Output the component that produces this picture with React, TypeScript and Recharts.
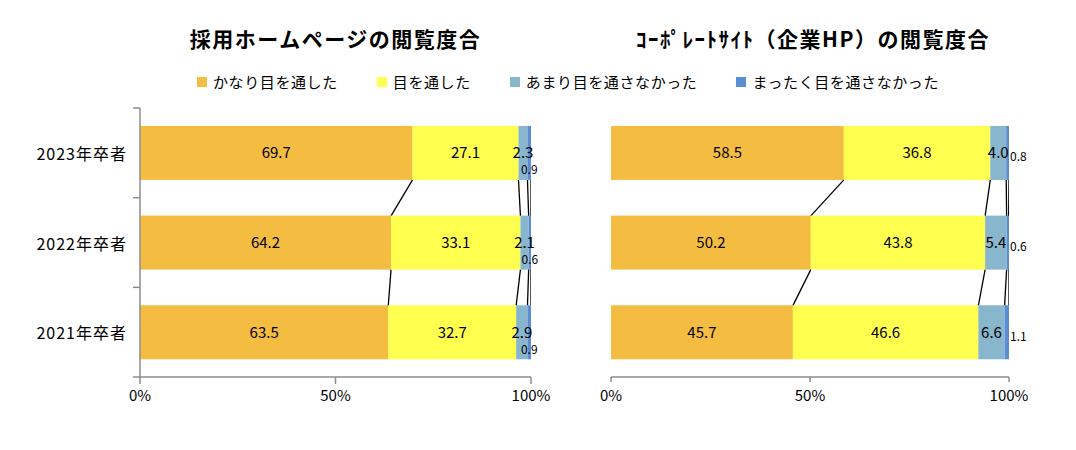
import React from 'react';
import { BarChart, Bar, XAxis, YAxis, LabelList } from 'recharts';

// ---- data ----
const years = ['2023年卒者', '2022年卒者', '2021年卒者'];
const seriesNames = ['かなり目を通した', '目を通した', 'あまり目を通さなかった', 'まったく目を通さなかった'];
const seriesColors = ['#F4BD41', '#FFFF4F', '#88B6CC', '#5B8DD3'];
const xTicks = [0, 50, 100];

const hpKanari = [69.7, 64.2, 63.5];
const hpTooshita = [27.1, 33.1, 32.7];
const hpAmari = [2.3, 2.1, 2.9];
const hpMattaku = [0.9, 0.6, 0.9];

const corpKanari = [58.5, 50.2, 45.7];
const corpTooshita = [36.8, 43.8, 46.6];
const corpAmari = [4.0, 5.4, 6.6];
const corpMattaku = [0.8, 0.6, 1.1];

const FONT = '"Noto Sans CJK JP", "Noto Sans", sans-serif';
const AXIS_GREY = '#8c8c8c';
const KEYS = ['s0', 's1', 's2', 's3'] as const;

// chart frame
const CHART_H = 420;
const M_TOP = 108;
const M_BOTTOM = 13;
const X_AXIS_H = 30;
const PLOT_H = CHART_H - M_TOP - M_BOTTOM - X_AXIS_H;
const BAND = PLOT_H / years.length;
// barCategoryGap 20% each side -> bar takes 60% of band; gap between bars = 2/3 of bar height
const GAP_RATIO = 0.4 / 0.6;

type Row = { year: string; s0: number; s1: number; s2: number; s3: number };

function buildRows(a: number[], b: number[], c: number[], d: number[]): Row[] {
  return years.map((year, i) => ({ year, s0: a[i], s1: b[i], s2: c[i], s3: d[i] }));
}

function cumAt(r: Row, k: number): number {
  let sum = 0;
  for (let j = 0; j <= k; j++) sum += r[KEYS[j]];
  return sum;
}

const hpRows = buildRows(hpKanari, hpTooshita, hpAmari, hpMattaku);
const corpRows = buildRows(corpKanari, corpTooshita, corpAmari, corpMattaku);

const fmt = (v: any) => Number(v).toFixed(1);

// bar segment + Excel-like series line to the next bar's matching edge
const makeShape = (rows: Row[], k: number) => (props: any) => {
  const { x, y, width, height, index, fill } = props;
  const row = rows[index];
  const next = rows[index + 1];
  let line = null;
  if (next && row[KEYS[k]] > 0) {
    const ppu = width / row[KEYS[k]];
    const x1 = x + width;
    const x2 = x1 + (cumAt(next, k) - cumAt(row, k)) * ppu;
    const y1 = y + height;
    const y2 = y1 + height * GAP_RATIO;
    line = <line x1={x1} y1={y1} x2={x2} y2={y2} stroke="#000" strokeWidth={1.3} />;
  }
  return (
    <g>
      <rect x={x} y={y} width={width} height={height} fill={fill} />
      {line}
    </g>
  );
};

function box(props: any) {
  const vb = props.viewBox ?? props;
  return { x: Number(vb.x), y: Number(vb.y), w: Number(vb.width), h: Number(vb.height) };
}

// small label for the last series: under the centre (left) or outside right (right)
const smallBelow = (props: any) => {
  const { x, y, w, h } = box(props);
  return (
    <text x={x + w / 2} y={y + h / 2 + 16} textAnchor="middle" dominantBaseline="central"
      fontSize={12} fontFamily={FONT} fill="#000">
      {fmt(props.value)}
    </text>
  );
};

const smallRight = (props: any) => {
  const { x, y, w, h } = box(props);
  return (
    <text x={x + w + 1} y={y + h / 2 + 3} textAnchor="start" dominantBaseline="central"
      fontSize={12} fontFamily={FONT} fill="#000">
      {fmt(props.value)}
    </text>
  );
};

// category tick: label + tick marks on band boundaries (Excel style)
const YTick = (props: any) => {
  const { x, y, payload, index } = props;
  const axisX = x + 13;
  const top = y - BAND / 2;
  return (
    <g>
      <line x1={axisX - 7} x2={axisX} y1={top} y2={top} stroke={AXIS_GREY} strokeWidth={1.5} />
      {index === years.length - 1 && (
        <line x1={axisX - 7} x2={axisX} y1={top + BAND} y2={top + BAND} stroke={AXIS_GREY} strokeWidth={1.5} />
      )}
      <text x={x} y={y} textAnchor="end" dominantBaseline="central" fontSize={16}
        fontFamily={FONT} letterSpacing={1} fill="#000">
        {payload.value}
      </text>
    </g>
  );
};

interface PanelProps {
  rows: Row[];
  width: number;
  marginLeft: number;
  marginRight: number;
  showY: boolean;
  tickSize: number;
  smallLabel: (p: any) => React.ReactElement;
}

function Panel({ rows, width, marginLeft, marginRight, showY, tickSize, smallLabel }: PanelProps) {
  return (
    <BarChart
      width={width}
      height={CHART_H}
      data={rows}
      layout="vertical"
      margin={{ top: M_TOP, right: marginRight, bottom: M_BOTTOM, left: marginLeft }}
      barCategoryGap="20%"
    >
      <XAxis
        type="number"
        domain={[0, 100]}
        ticks={xTicks}
        interval={0}
        allowDataOverflow
        tickFormatter={(v) => `${v}%`}
        axisLine={{ stroke: AXIS_GREY, strokeWidth: 1.5 }}
        tickLine={{ stroke: AXIS_GREY, strokeWidth: 1.5 }}
        tickSize={tickSize}
        tickMargin={13 - tickSize}
        height={X_AXIS_H}
        tick={{ fill: '#000', fontSize: 15, fontFamily: FONT }}
      />
      <YAxis
        type="category"
        dataKey="year"
        width={showY ? 140 : 0}
        hide={!showY}
        axisLine={{ stroke: AXIS_GREY, strokeWidth: 1.5 }}
        tickLine={false}
        tickSize={7}
        tickMargin={6}
        tick={<YTick />}
      />
      {KEYS.map((k, i) => (
        <Bar key={k} dataKey={k} name={seriesNames[i]} stackId="a" fill={seriesColors[i]}
          shape={makeShape(rows, i)} isAnimationActive={false}>
          {i < 3 ? (
            <LabelList dataKey={k} position="center" formatter={fmt} fill="#000" fontSize={15} fontFamily={FONT} />
          ) : (
            <LabelList dataKey={k} content={smallLabel} />
          )}
        </Bar>
      ))}
    </BarChart>
  );
}

export default function App() {
  return (
    <div style={{ position: 'absolute', left: 0, top: 0, width: 1076, height: 450, background: '#fff', fontFamily: FONT }}>
      <div style={{ position: 'absolute', left: 140, top: 23, width: 391, textAlign: 'center', fontSize: 21, fontWeight: 700, letterSpacing: 1.5, color: '#000', whiteSpace: 'nowrap' }}>
        採用ホームページの閲覧度合
      </div>
      <div style={{ position: 'absolute', left: 611, top: 23, width: 404, textAlign: 'center', fontSize: 21, fontWeight: 700, letterSpacing: 1.5, color: '#000', whiteSpace: 'nowrap' }}>
        ｺｰﾎﾟﾚｰﾄｻｲﾄ（企業HP）の閲覧度合
      </div>
      <div style={{ position: 'absolute', left: 197, top: 71, display: 'flex', gap: 39, fontSize: 15, letterSpacing: 0.6, color: '#000', whiteSpace: 'nowrap' }}>
        {seriesNames.map((n, i) => (
          <div key={n} style={{ display: 'flex', alignItems: 'center', gap: 6 }}>
            <span style={{ display: 'inline-block', width: 10, height: 10, background: seriesColors[i] }} />
            <span style={{ lineHeight: '22px' }}>{n}</span>
          </div>
        ))}
      </div>
      <div style={{ position: 'absolute', left: 0, top: 0 }}>
        <Panel rows={hpRows} width={560} marginLeft={0} marginRight={29} showY tickSize={7} smallLabel={smallBelow} />
      </div>
      <div style={{ position: 'absolute', left: 560, top: 0 }}>
        <Panel rows={corpRows} width={516} marginLeft={51} marginRight={67} showY={false} tickSize={5} smallLabel={smallRight} />
      </div>
    </div>
  );
}
